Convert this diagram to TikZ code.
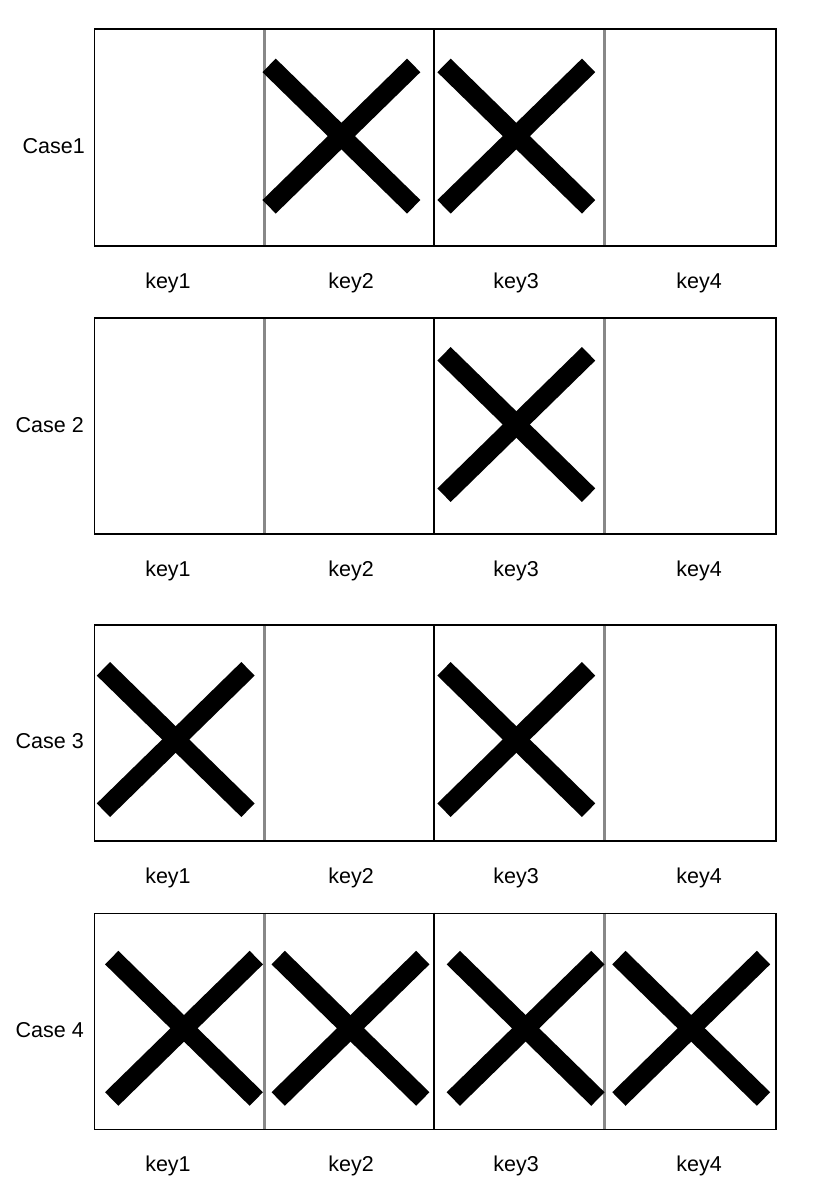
\documentclass[tikz,border=0pt]{standalone}
\usepackage{fontspec}
\setmainfont{Liberation Sans}
\definecolor{divgray}{HTML}{888888}
\tikzset{
  panelbox/.style={draw=black, line width=1.5pt},
  graydiv/.style={draw=divgray, line width=3pt},
  blackdiv/.style={draw=black, line width=1.3pt},
  crossline/.style={draw=black, line width=19pt, line cap=butt},
  caselabel/.style={anchor=base east, inner sep=0pt, font=\fontsize{21.5}{25}\selectfont},
  keylabel/.style={anchor=base, inner sep=0pt, font=\fontsize{21.5}{25}\selectfont},
}
\newcommand{\drawcross}[2]{%
  \draw[crossline] (#1-72.3,#2-70.7) -- (#1+72.3,#2+70.7);
  \draw[crossline] (#1-72.3,#2+70.7) -- (#1+72.3,#2-70.7);
}
\newcommand{\drawpanel}[3]{% name, top, bottom
  \draw[graydiv] (264.5,#2) -- (264.5,#3);
  \draw[graydiv] (604.5,#2) -- (604.5,#3);
  \draw[blackdiv] (434,#2) -- (434,#3);
  \node[panelbox, rectangle, inner sep=0pt, minimum width=681.5pt, minimum height=#3pt-#2pt, anchor=north west] (#1) at (93.5,#2) {};
}
\newcommand{\drawkeys}[2]{% prefix, baseline
  \node[keylabel] (#1k1) at (168,#2) {key1};
  \node[keylabel] (#1k2) at (351,#2) {key2};
  \node[keylabel] (#1k3) at (516,#2) {key3};
  \node[keylabel] (#1k4) at (699,#2) {key4};
}
\begin{document}
\begin{tikzpicture}[x=1pt,y=-1pt]
\useasboundingbox[fill=white] (0,0) rectangle (812,1194);
% Case 1
\drawpanel{pa}{28.3}{245}
\drawcross{341.4}{136.1}
\drawcross{516.3}{136.1}
\node[caselabel] (ca) at (85,153.5) {Case1};
\drawkeys{a}{288.5}
% Case 2
\drawpanel{pb}{317}{533}
\drawcross{516.3}{424.5}
\node[caselabel] (cb) at (84,432) {Case 2};
\drawkeys{b}{576.5}
% Case 3
\drawpanel{pc}{624}{840}
\drawcross{175.7}{739.5}
\drawcross{516.3}{739.5}
\node[caselabel] (cc) at (84,748.5) {Case 3};
\drawkeys{c}{883.5}
% Case 4
\drawpanel{pd}{912.5}{1128.5}
\drawcross{184}{1028.3}
\drawcross{350.5}{1028.3}
\drawcross{525.6}{1028.3}
\drawcross{691.2}{1028.3}
\node[caselabel] (cd) at (84,1037.5) {Case 4};
\drawkeys{d}{1171.5}
\end{tikzpicture}
\end{document}
